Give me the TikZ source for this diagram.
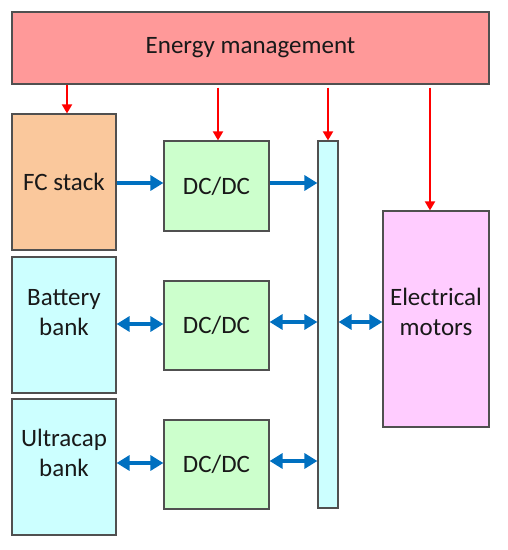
\documentclass[tikz,border=0pt]{standalone}
\usepackage{fontspec}
\setmainfont{Carlito}
\usetikzlibrary{arrows.meta,positioning,calc}

\definecolor{emred}{HTML}{FF9999}
\definecolor{fcorange}{HTML}{FAC89C}
\definecolor{stcyan}{HTML}{CCFFFF}
\definecolor{dcgreen}{HTML}{CCFFCC}
\definecolor{motpink}{HTML}{FFCCFF}
\definecolor{edgegray}{HTML}{505050}
\definecolor{flowblue}{HTML}{0070C0}

\begin{document}
\begin{tikzpicture}[x=1pt, y=-1pt, font=\fontsize{25}{30}\selectfont]

\tikzstyle{blk}=[draw=edgegray, line width=1.2pt, inner sep=0pt, align=center, text=black!90]
\tikzstyle{src}=[blk, minimum width=104pt, minimum height=136pt]
\tikzstyle{conv}=[blk, fill=dcgreen, minimum width=105pt, minimum height=89pt]
\tikzstyle{ctrl}=[-{Triangle[length=9pt,width=10pt]}, red, line width=2pt]
\tikzstyle{flow}=[-{Triangle[length=13pt,width=15pt]}, flowblue, line width=3.2pt]
\tikzstyle{bidir}=[{Triangle[length=13pt,width=15pt]}-{Triangle[length=13pt,width=15pt]}, flowblue, line width=3.2pt]

\useasboundingbox (0,0) rectangle (508,550);

\node[blk, fill=emred, minimum width=477pt, minimum height=72pt] (em) at (250.5,48) {Energy management};

\node[src, fill=fcorange] (fc) at (64,182) {FC stack};
\node[src, fill=stcyan, text depth=26pt] (bat) at (64,325) {Battery\\bank};
\node[src, fill=stcyan, text depth=28pt] (ucap) at (64,467) {Ultracap\\bank};

\node[conv, minimum height=90pt] (dc1) at (216.5,186) {DC/DC};
\node[conv] (dc2) at (216.5,325.5) {DC/DC};
\node[conv] (dc3) at (216.5,464.5) {DC/DC};

\node[blk, fill=stcyan, minimum width=20pt, minimum height=367pt] (bus) at (328,324.5) {};
\node[blk, fill=motpink, minimum width=106pt, minimum height=216pt, text depth=14pt] (mot) at (436,319) {Electrical\\motors};

\draw[ctrl] ($(em.south -| fc.north)+(3,0)$) -- ($(fc.north)+(3,0)$);
\draw[ctrl, shorten <=3pt] ($(em.south -| dc1.north)+(1.5,0)$) -- ($(dc1.north)+(1.5,0)$);
\draw[ctrl, shorten <=3pt] (em.south -| bus.north) -- (bus.north);
\draw[ctrl, shorten <=3pt] ($(em.south -| mot.north)+(-6,0)$) -- ($(mot.north)+(-6,0)$);

\draw[flow] ($(fc.east)+(0,1)$) -- ($(fc.east -| dc1.west)+(0,1)$);
\draw[flow] ($(dc1.east)+(0,-3)$) -- ($(dc1.east -| bus.west)+(0,-3)$);

\draw[bidir] ($(bat.east)+(0,-1)$) -- ($(bat.east -| dc2.west)+(0,-1)$);
\draw[bidir] ($(dc2.east)+(0,-3.5)$) -- ($(dc2.east -| bus.west)+(0,-3.5)$);

\draw[bidir] ($(ucap.east)+(0,-4)$) -- ($(ucap.east -| dc3.west)+(0,-4)$);
\draw[bidir] ($(dc3.east)+(0,-3.5)$) -- ($(dc3.east -| bus.west)+(0,-3.5)$);

\draw[bidir] ($(mot.west -| bus.east)+(0,3)$) -- ($(mot.west)+(0,3)$);

\end{tikzpicture}
\end{document}
